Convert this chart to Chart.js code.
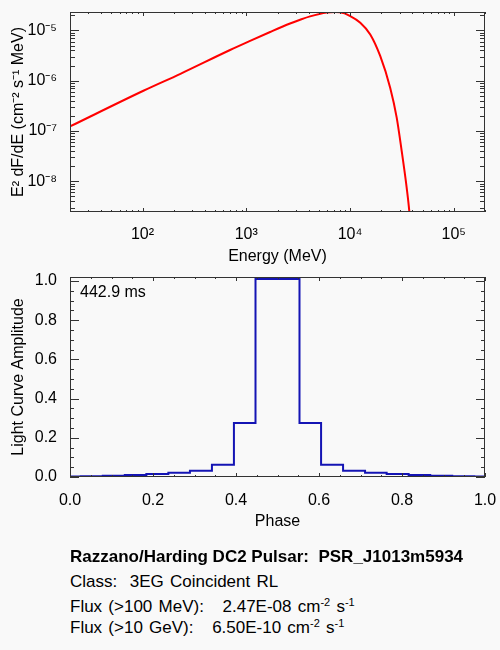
<!DOCTYPE html>
<html>
<head>
<meta charset="utf-8">
<script src="https://cdn.jsdelivr.net/npm/chart.js@4.4.1/dist/chart.umd.min.js"></script>
<style>
  body { margin: 0; background: #f9f9f9; }
  #wrap { position: relative; width: 500px; height: 650px; font-family: "Liberation Sans", Arial, sans-serif; color: #000; }
  canvas { position: absolute; left: 0; }
  #spec { top: 0; }
  #light { top: 265px; }
  .txt { position: absolute; left: 70px; font-size: 17px; line-height: 18px; white-space: pre; word-spacing: 1.5px; }
  .txt sup { font-size: 11px; vertical-align: 6px; line-height: 0; }
</style>
</head>
<body>
<div id="wrap">
  <canvas id="spec" width="500" height="270" style="width:500px;height:270px"></canvas>
  <canvas id="light" width="500" height="270" style="width:500px;height:270px"></canvas>
  <div class="txt" style="left:80px; top:283px; font-size:16px; word-spacing:0;">442.9 ms</div>
  <div class="txt" style="top:548px; font-weight:bold; word-spacing:0;">Razzano/Harding DC2 Pulsar:  PSR_J1013m5934</div>
  <div class="txt" style="top:573px;">Class:  3EG Coincident RL</div>
  <div class="txt" style="top:598px;">Flux (&gt;100 MeV):   2.47E-08 cm<sup>-2</sup> s<sup>-1</sup></div>
  <div class="txt" style="top:619px;">Flux (&gt;10 GeV):   6.50E-10 cm<sup>-2</sup> s<sup>-1</sup></div>
</div>
<script>
// spectrum
const energyMeV = [20, 102, 232, 698, 1089, 1698, 2642, 3304, 4121, 5970, 7180, 8020,
                   10046, 12560, 15670, 19540, 24380, 28180, 31480, 35160, 37240, 38500];
const e2dfde = [1.23e-7, 6.3e-7, 1.37e-6, 4.07e-6, 6.18e-6, 9.29e-6, 1.37e-5, 1.63e-5, 1.9e-5, 2.26e-5, 2.31e-5, 2.29e-5,
                1.93e-5, 1.42e-5, 8.32e-6, 3.10e-6, 7.26e-7, 1.84e-7, 4.00e-8, 7.46e-9, 2.57e-9, 1.0e-9];

// light curve, left edge of each bin (last entry closes the curve at phase 1)
const phaseEdges = [0, 0.026, 0.079, 0.132, 0.184, 0.237, 0.289, 0.342, 0.395, 0.447, 0.500,
                    0.553, 0.605, 0.658, 0.711, 0.763, 0.816, 0.868, 0.921, 0.974, 1.0];
const amplitude = [0.003, 0.004, 0.007, 0.010, 0.015, 0.022, 0.032, 0.063, 0.275, 1.01, 1.01,
                   0.275, 0.063, 0.032, 0.022, 0.015, 0.010, 0.007, 0.004, 0.003, 0.003];

const phaseTicks = [0.0, 0.2, 0.4, 0.6, 0.8, 1.0];
const amplitudeTicks = [0.0, 0.2, 0.4, 0.6, 0.8, 1.0];

Chart.defaults.font.family = "'Liberation Sans', Arial, sans-serif";
Chart.defaults.font.size = 16;
Chart.defaults.color = "#000";

const SUP = {"-": "\u207B", "0": "\u2070", "1": "\u00B9", "2": "\u00B2", "3": "\u00B3",
             "4": "\u2074", "5": "\u2075", "6": "\u2076", "7": "\u2077", "8": "\u2078", "9": "\u2079"};

function isPow10(v) {
    const l = Math.log10(v);
    return Math.abs(l - Math.round(l)) < 1e-6;
}

function pow10Label(v) {
    const e = String(Math.round(Math.log10(v)));
    return "10" + e.split("").map(c => SUP[c]).join("");
}

function logTicks(scale) {
    const out = [];
    const lo = Math.floor(Math.log10(scale.min));
    const hi = Math.ceil(Math.log10(scale.max));
    for (let d = lo; d <= hi; d++) {
        for (let m = 1; m <= 9; m++) {
            const v = m * Math.pow(10, d);
            if (v >= scale.min * 0.999 && v <= scale.max * 1.001) out.push({ value: v });
        }
    }
    scale.ticks = out;
}

function onStep(v, step) {
    return Math.abs(v / step - Math.round(v / step)) < 1e-6;
}

// IDL style box with inward ticks on all four sides
function boxTicks(isMajorX, isMajorY, xLen, yLen) {
    return {
        id: "boxTicks",
        afterDatasetsDraw(chart) {
            const { ctx, chartArea: a, scales } = chart;
            ctx.save();
            ctx.strokeStyle = "#333";
            ctx.lineWidth = 1;
            ctx.beginPath();
            scales.x.ticks.forEach(t => {
                const px = Math.round(scales.x.getPixelForValue(t.value)) + 0.5;
                const len = isMajorX(t.value) ? xLen[0] : xLen[1];
                ctx.moveTo(px, a.bottom); ctx.lineTo(px, a.bottom - len);
                ctx.moveTo(px, a.top); ctx.lineTo(px, a.top + len);
            });
            scales.y.ticks.forEach(t => {
                const py = Math.round(scales.y.getPixelForValue(t.value)) + 0.5;
                const len = isMajorY(t.value) ? yLen[0] : yLen[1];
                ctx.moveTo(a.left, py); ctx.lineTo(a.left + len, py);
                ctx.moveTo(a.right, py); ctx.lineTo(a.right - len, py);
            });
            ctx.stroke();
            ctx.strokeRect(Math.round(a.left) + 0.5, Math.round(a.top) + 0.5,
                           Math.round(a.width) - 1, Math.round(a.height) - 1);
            ctx.restore();
        }
    };
}

function axisBase(titleText, titleLeft) {
    return {
        grid: { display: false },
        border: { display: false },
        ticks: { autoSkip: false, maxRotation: 0, minRotation: 0 },
        title: { display: true, text: titleText, font: { size: 16 },
                 padding: titleLeft ? { top: 9, bottom: 0 } : { top: 0, bottom: 4 } }
    };
}

function fitX(s) { s.height = 58; s.paddingLeft = 0; s.paddingRight = 0; }
function fitY(s) { s.width = 70; s.paddingTop = 0; s.paddingBottom = 0; }

const specX = axisBase("Energy (MeV)", false);
specX.type = "logarithmic";
specX.min = 20;
specX.max = 2e5;
specX.afterBuildTicks = logTicks;
specX.afterFit = fitX;
specX.ticks.padding = 5;
specX.ticks.callback = v => isPow10(v) ? pow10Label(v) : "";

const specY = axisBase("E\u00B2 dF/dE (cm\u207B\u00B2 s\u207B\u00B9 MeV)", true);
specY.type = "logarithmic";
specY.min = 2.45e-9;
specY.max = 2.32e-5;
specY.afterBuildTicks = logTicks;
specY.afterFit = fitY;
specY.ticks.padding = 5;
specY.ticks.callback = v => isPow10(v) ? pow10Label(v) : "";

new Chart(document.getElementById("spec"), {
    type: "line",
    data: {
        datasets: [{
            data: energyMeV.map((e, i) => ({ x: e, y: e2dfde[i] })),
            borderColor: "#ff0000",
            borderWidth: 2,
            pointRadius: 0,
            cubicInterpolationMode: "monotone",
            fill: false
        }]
    },
    options: {
        responsive: false,
        animation: false,
        layout: { padding: { top: 12, right: 15, left: 0, bottom: 0 } },
        plugins: { legend: { display: false }, tooltip: { enabled: false } },
        scales: { x: specX, y: specY }
    },
    plugins: [boxTicks(isPow10, isPow10, [4, 2], [9, 5])]
});

const lightX = axisBase("Phase", false);
lightX.type = "linear";
lightX.min = 0;
lightX.max = 1;
lightX.afterFit = fitX;
lightX.ticks.stepSize = 0.05;
lightX.ticks.includeBounds = false;
lightX.ticks.padding = 6;
lightX.ticks.callback = v => phaseTicks.some(p => Math.abs(p - v) < 1e-6) ? v.toFixed(1) : "";

const lightY = axisBase("Light Curve Amplitude", true);
lightY.type = "linear";
lightY.min = 0;
lightY.max = 1.02;
lightY.afterFit = fitY;
lightY.ticks.stepSize = 0.05;
lightY.ticks.includeBounds = false;
lightY.ticks.padding = 5;
lightY.ticks.callback = v => amplitudeTicks.some(p => Math.abs(p - v) < 1e-6) ? v.toFixed(1) : "";

new Chart(document.getElementById("light"), {
    type: "line",
    data: {
        datasets: [{
            data: phaseEdges.map((p, i) => ({ x: p, y: amplitude[i] })),
            borderColor: "#1414b4",
            borderWidth: 2,
            pointRadius: 0,
            stepped: "before",
            fill: false
        }]
    },
    options: {
        responsive: false,
        animation: false,
        layout: { padding: { top: 12, right: 15, left: 0, bottom: 0 } },
        plugins: { legend: { display: false }, tooltip: { enabled: false } },
        scales: { x: lightX, y: lightY }
    },
    plugins: [boxTicks(v => onStep(v, 0.2), v => onStep(v, 0.2), [4, 2], [9, 4])]
});
</script>
</body>
</html>
